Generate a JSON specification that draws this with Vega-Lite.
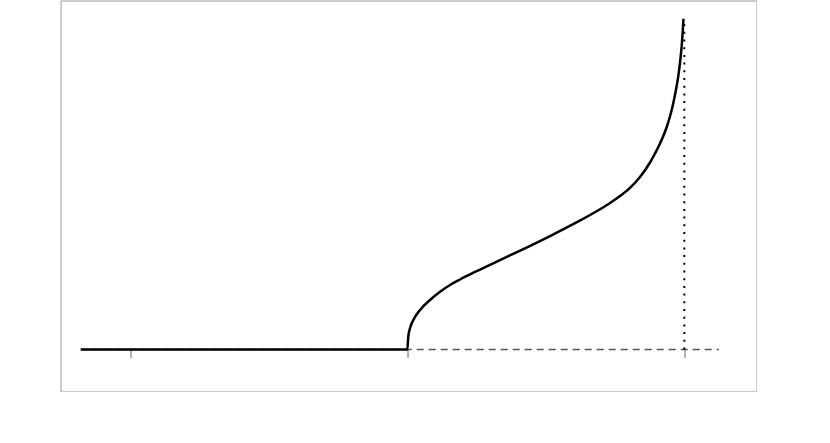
{
  "$schema": "https://vega.github.io/schema/vega-lite/v6.json",
  "autosize": "none",
  "padding": {"left": 60.5, "top": 0.5, "right": 0, "bottom": 0},
  "width": 696,
  "height": 391,
  "config": {"view": {"stroke": "#9a9a9a", "strokeWidth": 1}},
  "datasets": {
    "curve": [
      {"x": -1.179, "y": 0},
      {"x": 0, "y": 0},
      {"x": 0.0036, "y": 0.0387},
      {"x": 0.0097, "y": 0.0641},
      {"x": 0.0217, "y": 0.0892},
      {"x": 0.0458, "y": 0.1194},
      {"x": 0.0819, "y": 0.1496},
      {"x": 0.1181, "y": 0.1747},
      {"x": 0.1542, "y": 0.195},
      {"x": 0.1903, "y": 0.2116},
      {"x": 0.2444, "y": 0.2343},
      {"x": 0.3347, "y": 0.2703},
      {"x": 0.4249, "y": 0.3058},
      {"x": 0.5152, "y": 0.3428},
      {"x": 0.6054, "y": 0.3818},
      {"x": 0.6957, "y": 0.4241},
      {"x": 0.7318, "y": 0.4429},
      {"x": 0.7679, "y": 0.464},
      {"x": 0.804, "y": 0.4888},
      {"x": 0.8401, "y": 0.5215},
      {"x": 0.8762, "y": 0.5653},
      {"x": 0.8942, "y": 0.5925},
      {"x": 0.9123, "y": 0.6227},
      {"x": 0.9365, "y": 0.6726},
      {"x": 0.9545, "y": 0.724},
      {"x": 0.9675, "y": 0.7745},
      {"x": 0.978, "y": 0.8247},
      {"x": 0.9856, "y": 0.8752},
      {"x": 0.9913, "y": 0.9256},
      {"x": 0.9953, "y": 0.9758},
      {"x": 0.9968, "y": 1.0}
    ],
    "base": [
      {"x": -1.179, "y": 0},
      {"x": 1.1253, "y": 0}
    ],
    "vert": [
      {"x": 1.0, "y": 0},
      {"x": 1.0, "y": 1.0}
    ]
  },
  "encoding": {
    "x": {
      "field": "x",
      "type": "quantitative",
      "scale": {"domain": [-1.252, 1.2606], "nice": false, "zero": false},
      "axis": {
        "values": [-1, 0, 1],
        "labels": false,
        "domain": false,
        "grid": false,
        "title": null,
        "ticks": true,
        "tickSize": 8,
        "tickColor": "#666666",
        "tickWidth": 1,
        "offset": -42
      }
    },
    "y": {
      "field": "y",
      "type": "quantitative",
      "scale": {"domain": [-0.127, 1.055], "nice": false, "zero": false},
      "axis": null
    }
  },
  "layer": [
    {
      "data": {"name": "base"},
      "mark": {"type": "line", "color": "#555555", "strokeWidth": 1.3, "strokeDash": [7, 5]}
    },
    {
      "data": {"name": "vert"},
      "mark": {"type": "line", "color": "#000000", "strokeWidth": 2, "strokeDash": [2, 5.7]},
      "encoding": {"order": {"field": "y", "type": "quantitative"}}
    },
    {
      "data": {"name": "curve"},
      "mark": {"type": "line", "color": "#000000", "strokeWidth": 2.5, "interpolate": "monotone"}
    }
  ]
}
